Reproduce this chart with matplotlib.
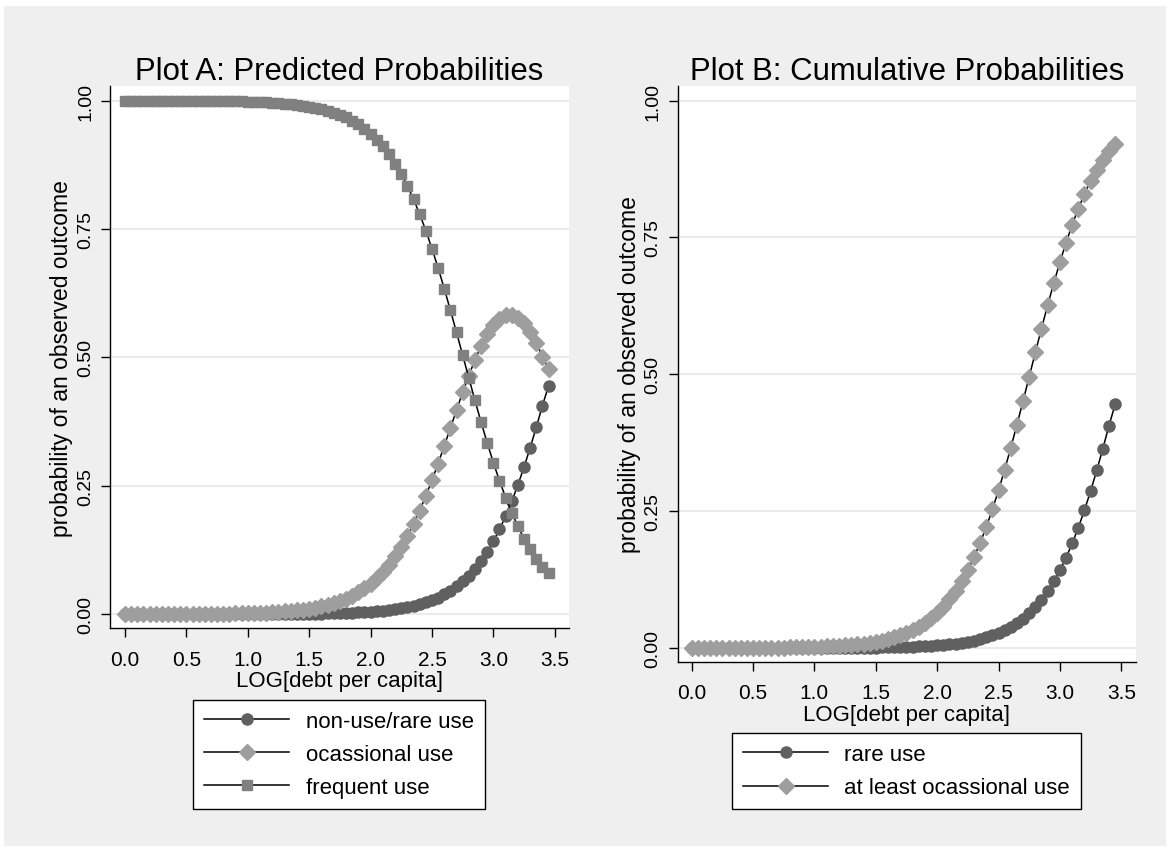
import matplotlib
matplotlib.use("Agg")
import matplotlib.pyplot as plt
from matplotlib.patches import Rectangle

plt.rcParams['font.family'] = ['Liberation Sans', 'DejaVu Sans']

# LOG[debt per capita] grid
x = [0.00, 0.05, 0.10, 0.15, 0.20, 0.25, 0.30, 0.35, 0.40, 0.45,
     0.50, 0.55, 0.60, 0.65, 0.70, 0.75, 0.80, 0.85, 0.90, 0.95,
     1.00, 1.05, 1.10, 1.15, 1.20, 1.25, 1.30, 1.35, 1.40, 1.45,
     1.50, 1.55, 1.60, 1.65, 1.70, 1.75, 1.80, 1.85, 1.90, 1.95,
     2.00, 2.05, 2.10, 2.15, 2.20, 2.25, 2.30, 2.35, 2.40, 2.45,
     2.50, 2.55, 2.60, 2.65, 2.70, 2.75, 2.80, 2.85, 2.90, 2.95,
     3.00, 3.05, 3.10, 3.15, 3.20, 3.25, 3.30, 3.35, 3.40, 3.45]

# non-use/rare use (also "rare use" in plot B)
rare = [0.0000, 0.0000, 0.0000, 0.0000, 0.0000, 0.0000, 0.0000, 0.0000, 0.0000, 0.0000,
        0.0000, 0.0000, 0.0000, 0.0000, 0.0000, 0.0001, 0.0001, 0.0001, 0.0001, 0.0001,
        0.0001, 0.0002, 0.0002, 0.0002, 0.0003, 0.0003, 0.0004, 0.0005, 0.0006, 0.0007,
        0.0008, 0.0010, 0.0011, 0.0014, 0.0016, 0.0020, 0.0023, 0.0028, 0.0033, 0.0040,
        0.0047, 0.0056, 0.0067, 0.0080, 0.0096, 0.0114, 0.0136, 0.0162, 0.0193, 0.0229,
        0.0273, 0.0324, 0.0384, 0.0456, 0.0539, 0.0638, 0.0752, 0.0885, 0.1039, 0.1217,
        0.1419, 0.1649, 0.1909, 0.2198, 0.2518, 0.2866, 0.3243, 0.3643, 0.4063, 0.4450]

occasional = [0.0001, 0.0001, 0.0001, 0.0001, 0.0001, 0.0001, 0.0002, 0.0002, 0.0002, 0.0003,
              0.0003, 0.0004, 0.0005, 0.0006, 0.0007, 0.0008, 0.0010, 0.0012, 0.0014, 0.0016,
              0.0019, 0.0021, 0.0026, 0.0031, 0.0037, 0.0045, 0.0053, 0.0063, 0.0075, 0.0089,
              0.0107, 0.0127, 0.0152, 0.0180, 0.0215, 0.0255, 0.0303, 0.0359, 0.0426, 0.0503,
              0.0595, 0.0701, 0.0824, 0.0966, 0.1128, 0.1314, 0.1523, 0.1757, 0.2017, 0.2302,
              0.2608, 0.2933, 0.3275, 0.3623, 0.3975, 0.4318, 0.4647, 0.4951, 0.5221, 0.5448,
              0.5628, 0.5754, 0.5820, 0.5828, 0.5774, 0.5663, 0.5495, 0.5278, 0.5017, 0.4770]

frequent = [0.9999, 0.9999, 0.9999, 0.9999, 0.9999, 0.9999, 0.9998, 0.9998, 0.9998, 0.9997,
            0.9997, 0.9996, 0.9995, 0.9994, 0.9993, 0.9992, 0.9990, 0.9988, 0.9986, 0.9984,
            0.9980, 0.9977, 0.9972, 0.9967, 0.9960, 0.9952, 0.9943, 0.9932, 0.9919, 0.9904,
            0.9885, 0.9863, 0.9837, 0.9806, 0.9769, 0.9725, 0.9674, 0.9613, 0.9541, 0.9457,
            0.9358, 0.9243, 0.9109, 0.8954, 0.8776, 0.8572, 0.8341, 0.8081, 0.7790, 0.7469,
            0.7119, 0.6743, 0.6341, 0.5921, 0.5486, 0.5044, 0.4601, 0.4164, 0.3740, 0.3335,
            0.2953, 0.2597, 0.2271, 0.1974, 0.1708, 0.1471, 0.1262, 0.1079, 0.0920, 0.0800]

at_least_occ = [0.0001, 0.0001, 0.0001, 0.0001, 0.0001, 0.0001, 0.0002, 0.0002, 0.0002, 0.0003,
                0.0003, 0.0004, 0.0005, 0.0006, 0.0007, 0.0008, 0.0010, 0.0012, 0.0014, 0.0016,
                0.0020, 0.0023, 0.0028, 0.0033, 0.0040, 0.0048, 0.0057, 0.0068, 0.0081, 0.0096,
                0.0115, 0.0137, 0.0163, 0.0194, 0.0231, 0.0275, 0.0326, 0.0387, 0.0459, 0.0543,
                0.0642, 0.0757, 0.0891, 0.1046, 0.1224, 0.1428, 0.1659, 0.1919, 0.2210, 0.2531,
                0.2881, 0.3257, 0.3659, 0.4079, 0.4514, 0.4956, 0.5399, 0.5836, 0.6260, 0.6665,
                0.7047, 0.7403, 0.7729, 0.8026, 0.8292, 0.8529, 0.8738, 0.8921, 0.9080, 0.9200]

xticks = [0.0, 0.5, 1.0, 1.5, 2.0, 2.5, 3.0, 3.5]
yticks = [0.0, 0.25, 0.5, 0.75, 1.0]

dark = '#606060'
light = '#9e9e9e'
mid = '#808080'
bg = '#efefef'
gridc = '#e8e8e8'

W, H = 1170, 854
fig = plt.figure(figsize=(W / 100, H / 100), dpi=100)
fig.patch.set_facecolor('white')
fig.patches.append(Rectangle((4 / W, 7 / H), (W - 8) / W, (H - 14) / H,
                             transform=fig.transFigure, facecolor=bg,
                             edgecolor='none', zorder=-10))


def px_axes(l, t, r, b):
    return fig.add_axes([l / W, 1 - b / H, (r - l) / W, (b - t) / H])


def style(ax, title, xlim, ylim):
    ax.set_facecolor('white')
    ax.spines['top'].set_visible(False)
    ax.spines['right'].set_visible(False)
    ax.spines['left'].set_linewidth(1.0)
    ax.spines['bottom'].set_linewidth(1.0)
    ax.set_xlim(*xlim)
    ax.set_ylim(*ylim)
    ax.set_xticks(xticks)
    ax.set_xticklabels(['%.1f' % v for v in xticks])
    ax.set_yticks(yticks)
    ax.set_yticklabels(['%.2f' % v for v in yticks], rotation=90, va='center')
    ax.tick_params(direction='out', length=6.5, width=1.0)
    ax.tick_params(axis='x', labelsize=15, pad=9)
    ax.tick_params(axis='y', labelsize=14, pad=5)
    ax.yaxis.grid(True, color=gridc, lw=1.3)
    ax.set_axisbelow(True)
    ax.set_title(title, fontsize=22.4, pad=3.5)
    ax.set_xlabel('LOG[debt per capita]', fontsize=16, labelpad=1)
    ax.set_ylabel('probability of an observed outcome', fontsize=16.5, labelpad=3)


mk = dict(color='black', lw=1.1)

# Plot A
axA = px_axes(110, 87.3, 569, 629)
axA.plot(x, rare, marker='o', ms=8, mfc=dark, mec=dark, label='non-use/rare use', **mk)
axA.plot(x, occasional, marker='D', ms=8.2, mfc=light, mec=light, label='ocassional use', **mk)
axA.plot(x, frequent, marker='s', ms=6.8, mfc=mid, mec=mid, label='frequent use', **mk)
style(axA, 'Plot A: Predicted Probabilities', (-0.122, 3.616), (-0.027, 1.028))

# Plot B
axB = px_axes(677.7, 87.3, 1136, 662.7)
axB.plot(x, rare, marker='o', ms=8, mfc=dark, mec=dark, label='rare use', **mk)
axB.plot(x, at_least_occ, marker='D', ms=8.2, mfc=light, mec=light, label='at least ocassional use', **mk)
style(axB, 'Plot B: Cumulative Probabilities', (-0.114, 3.62), (-0.025, 1.026))

leg_kw = dict(loc='center', bbox_transform=fig.transFigure, fontsize=16, numpoints=1,
              handlelength=3.8, handletextpad=0.75, labelspacing=0.55, borderpad=0.5,
              fancybox=False, framealpha=1, edgecolor='black')
legA = axA.legend(bbox_to_anchor=(339 / W, 1 - 755.5 / H), **leg_kw)
legB = axB.legend(bbox_to_anchor=(906.7 / W, 1 - 772.2 / H), **leg_kw)
for leg in (legA, legB):
    leg.get_frame().set_linewidth(1.0)

fig.savefig('out.png', dpi=100, facecolor=fig.get_facecolor())
